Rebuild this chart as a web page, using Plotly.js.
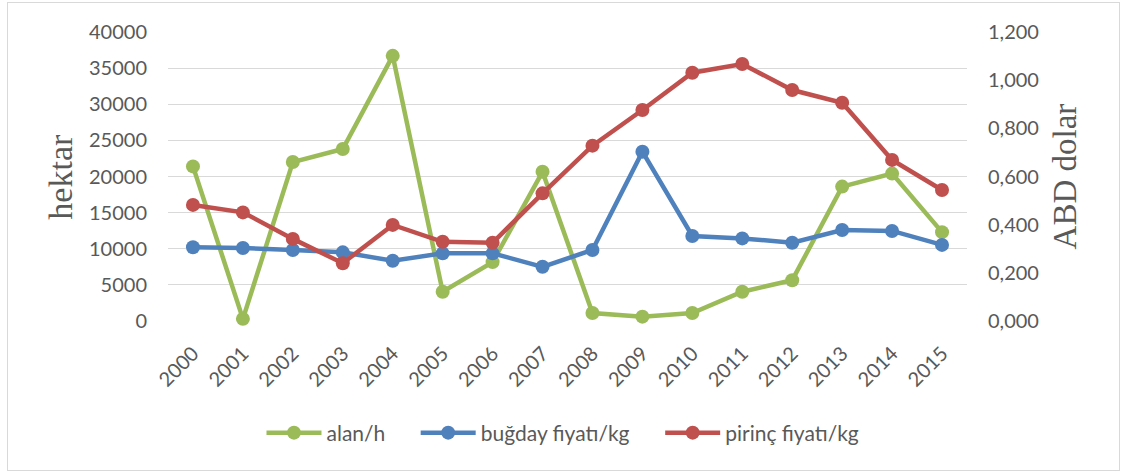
<!DOCTYPE html>
<html>
<head>
<meta charset="utf-8">
<script src="https://cdn.plot.ly/plotly-3.0.1.min.js"></script>
<style>
html,body{margin:0;padding:0;background:#fff;}
#wrap{position:relative;width:1122px;height:471px;}
#chart{width:1122px;height:471px;}
#border{position:absolute;left:7px;top:2px;width:1111px;height:467px;border:1px solid #d9d9d9;pointer-events:none;}
</style>
</head>
<body>
<div id="wrap"><div id="chart"></div><div id="border"></div></div>
<script>
const years = ['2000','2001','2002','2003','2004','2005','2006','2007','2008','2009','2010','2011','2012','2013','2014','2015'];
const alan = [21400, 300, 22000, 23800, 36700, 4050, 8150, 20650, 1100, 600, 1100, 4050, 5650, 18600, 20400, 12300];
const bugday = [0.306, 0.303, 0.295, 0.285, 0.250, 0.281, 0.281, 0.225, 0.295, 0.703, 0.353, 0.343, 0.325, 0.378, 0.374, 0.316];
const pirinc = [0.482, 0.451, 0.341, 0.240, 0.399, 0.329, 0.325, 0.530, 0.728, 0.876, 1.031, 1.067, 0.959, 0.906, 0.669, 0.544];
const leftTicks = [0, 5000, 10000, 15000, 20000, 25000, 30000, 35000, 40000];
const rightTicks = [0, 0.2, 0.4, 0.6, 0.8, 1.0, 1.2];
const rightTickText = ['0,000', '0,200', '0,400', '0,600', '0,800', '1,000', '1,200'];
const names = ['alan/h', 'buğday fiyatı/kg', 'pirinç fiyatı/kg'];
const leftTitle = 'hektar';
const rightTitle = 'ABD dolar';

const font = 'Lato, "Open Sans", sans-serif';
const serif = '"Liberation Serif", serif';
const grey = '#595959';
const mk = (color) => ({color: color, size: 14});
const traces = [
  {x: years, y: alan, name: names[0], type: 'scatter', mode: 'lines+markers', cliponaxis: false,
   line: {color: '#9BBB59', width: 4.5}, marker: mk('#9BBB59'), yaxis: 'y', legend: 'legend'},
  {x: years, y: bugday, name: names[1], type: 'scatter', mode: 'lines+markers', cliponaxis: false,
   line: {color: '#4F81BD', width: 4.5}, marker: mk('#4F81BD'), yaxis: 'y2', legend: 'legend2'},
  {x: years, y: pirinc, name: names[2], type: 'scatter', mode: 'lines+markers', cliponaxis: false,
   line: {color: '#C0504D', width: 4.5}, marker: mk('#C0504D'), yaxis: 'y2', legend: 'legend3'}
];
const legendBase = (x) => ({orientation: 'h', x: x, xanchor: 'left', y: -0.3875, yanchor: 'middle',
  font: {family: font, size: 21, color: grey}, itemwidth: 55, bgcolor: 'rgba(0,0,0,0)'});
const layout = {
  width: 1122, height: 471,
  margin: {l: 168, r: 155, t: 32, b: 150},
  paper_bgcolor: '#fff', plot_bgcolor: '#fff',
  showlegend: true,
  legend: legendBase(0.117),
  legend2: legendBase(0.310),
  legend3: legendBase(0.616),
  annotations: [
    {text: leftTitle, xref: 'paper', yref: 'paper', x: -0.135, y: 0.5, xanchor: 'center', yanchor: 'middle',
     textangle: -90, showarrow: false, font: {family: serif, size: 34, color: grey}}
  ],
  xaxis: {type: 'category', tickangle: -45, showgrid: false, zeroline: false, showline: false,
          ticks: '', ticklabelstandoff: 16, tickfont: {family: font, size: 20, color: grey}, range: [-0.5, 15.5]},
  yaxis: {range: [0, 40000], tickvals: leftTicks, ticktext: leftTicks.map(String),
          showgrid: true, gridcolor: '#d9d9d9', gridwidth: 1.3, zeroline: false, showline: false,
          ticks: '', ticklabelstandoff: 20, tickfont: {family: font, size: 20, color: grey}},
  yaxis2: {overlaying: 'y', side: 'right', range: [0, 1.2], tickvals: rightTicks, ticktext: rightTickText,
           showgrid: false, zeroline: false, showline: false, ticks: '', ticklabelstandoff: 20,
           tickfont: {family: font, size: 20, color: grey},
           title: {text: rightTitle, font: {family: serif, size: 33, color: grey}, standoff: 14}}
};
Plotly.newPlot('chart', traces, layout, {displayModeBar: false, responsive: false});
</script>
</body>
</html>
